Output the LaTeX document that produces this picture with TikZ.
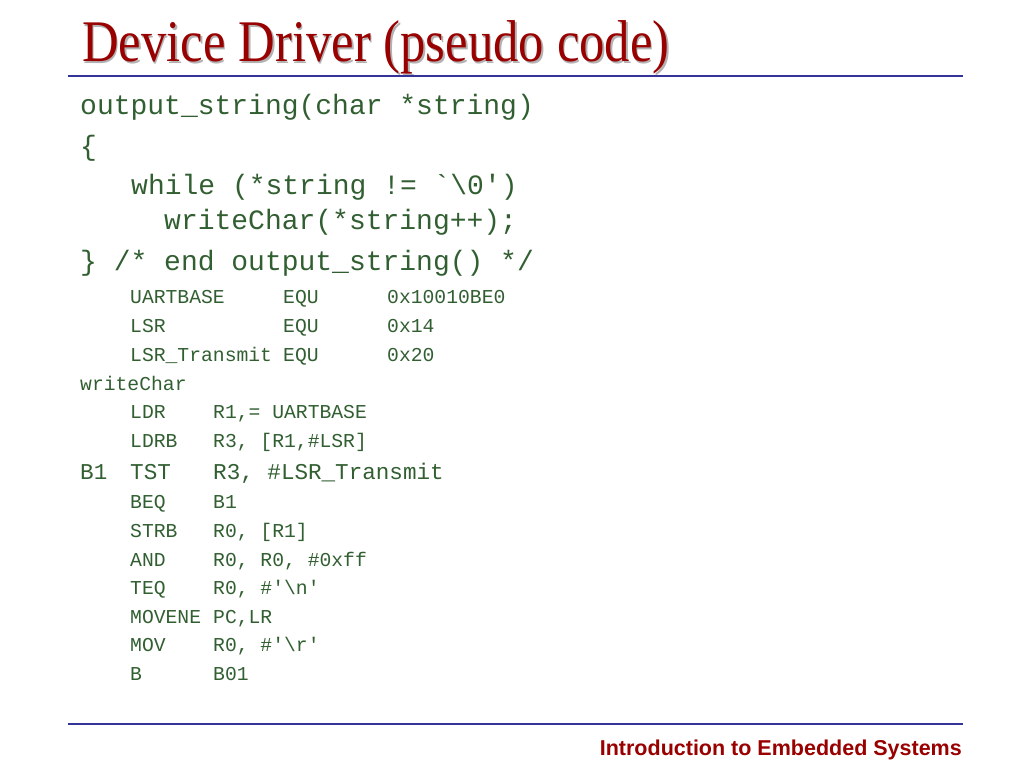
\documentclass[tikz,border=0pt]{standalone}
\usepackage{fontspec}
\setmainfont{Liberation Serif}
\setsansfont{Liberation Sans}
\setmonofont{Liberation Mono}
\usetikzlibrary{positioning}
\definecolor{titlered}{RGB}{153,0,0}
\definecolor{rulebl}{RGB}{51,51,153}
\definecolor{codegr}{RGB}{50,95,50}

\begin{document}
\begin{tikzpicture}[x=1pt,y=-1pt]

  \tikzset{code node/.style={anchor=base west, inner sep=0pt, text=codegr,
  		font=\ttfamily\fontsize{28}{30}\selectfont}, }
  \tikzset{asm node/.style={code node, font=\ttfamily\fontsize{19.7}{21}\selectfont}, }
  \tikzset{mid node/.style={code node, font=\ttfamily\fontsize{22.6}{24}\selectfont}, }
  \tikzset{hline/.style={draw=rulebl, line width=1.5pt}, }
\useasboundingbox (0,0) rectangle (1024,768);

% title
\node[anchor=base west, inner sep=0pt, text=black!30, xscale=0.86,
  font=\fontsize{59}{62}\selectfont] (ts) at (83.5,63.5) {Device Driver (pseudo code)};
\node[anchor=base west, inner sep=0pt, text=titlered, xscale=0.86,
  font=\fontsize{59}{62}\selectfont] (t) at (82,62) {Device Driver (pseudo code)};
\coordinate (r1) at (68,76);
\coordinate (r2) at (963,76);
\path[hline] (r1) -- (r2);

% C part
\node[code node] (c1) at (80,114) {output\_string(char *string)};
\node[code node] (c2) at (80,155) {\{};
\node[code node] (c3) at (131,194) {while (*string != `\textbackslash 0')};
\node[code node] (c4) at (164,229) {writeChar(*string++);};
\node[code node] (c5) at (80,270) {\} /* end output\_string() */};

% equates
\node[asm node] (e1) at (130,303) {UARTBASE};
\node[asm node] (e2) at (130,332) {LSR};
\node[asm node] (e3) at (130,361) {LSR\_Transmit};
\foreach \n/\y in {1/303,2/332,3/361}
  \node[asm node] (q\n) at (283,\y) {EQU};
\node[asm node] (v1) at (387,303) {0x10010BE0};
\node[asm node] (v2) at (387,332) {0x14};
\node[asm node] (v3) at (387,361) {0x20};

% assembly
\node[asm node] (w) at (80,390) {writeChar};
\node[asm node] (i1) at (130,418) {LDR};
\node[asm node] (o1) at (213,418) {R1,= UARTBASE};
\node[asm node] (i2) at (130,447) {LDRB};
\node[asm node] (o2) at (213,447) {R3, [R1,\#LSR]};
\node[mid node] (b) at (80,479) {B1};
\node[mid node] (i3) at (130,479) {TST};
\node[mid node] (o3) at (213,479) {R3, \#LSR\_Transmit};
\node[asm node] (i4) at (130,508) {BEQ};
\node[asm node] (o4) at (213,508) {B1};
\node[asm node] (i5) at (130,537) {STRB};
\node[asm node] (o5) at (213,537) {R0, [R1]};
\node[asm node] (i6) at (130,566) {AND};
\node[asm node] (o6) at (213,566) {R0, R0, \#0xff};
\node[asm node] (i7) at (130,594) {TEQ};
\node[asm node] (o7) at (213,594) {R0, \#'\textbackslash n'};
\node[asm node] (i8) at (130,623) {MOVENE};
\node[asm node] (o8) at (213,623) {PC,LR};
\node[asm node] (i9) at (130,651) {MOV};
\node[asm node] (o9) at (213,651) {R0, \#'\textbackslash r'};
\node[asm node] (i10) at (130,680) {B};
\node[asm node] (o10) at (213,680) {B01};

% footer
\coordinate (f1) at (68,724);
\coordinate (f2) at (963,724);
\path[hline] (f1) -- (f2);
\node[anchor=base east, inner sep=0pt, text=titlered,
  font=\sffamily\bfseries\fontsize{21.5}{23}\selectfont] (ft) at (962,755) {Introduction to Embedded Systems};
%%
\end{tikzpicture}
\end{document}
